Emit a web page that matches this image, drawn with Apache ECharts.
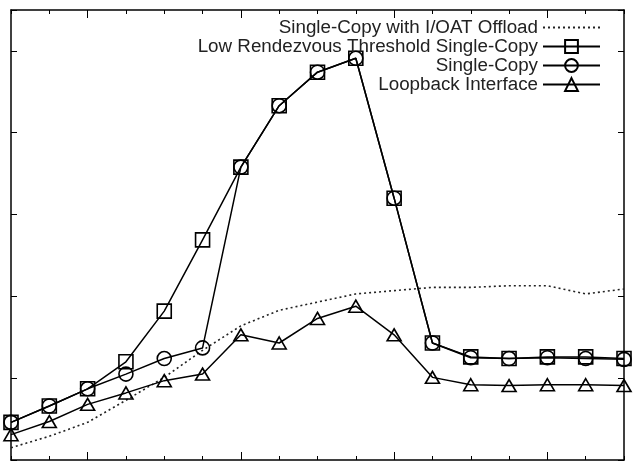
<!DOCTYPE html>
<html>
<head>
<meta charset="utf-8">
<script src="https://cdn.jsdelivr.net/npm/echarts@6/dist/echarts.min.js"></script>
<style>
  html, body { margin: 0; padding: 0; background: #fff; }
  #chart { width: 637px; height: 470px; }
</style>
</head>
<body>
<div id="chart"></div>
<script>
// x positions (message size steps), same for every series
const steps = [0, 1, 2, 3, 4, 5, 6, 7, 8, 9, 10, 11, 12, 13, 14, 15, 16]

const seriesNames = [
  'Single-Copy with I/OAT Offload',
  'Low Rendezvous Threshold Single-Copy',
  'Single-Copy',
  'Loopback Interface'
]

const ioatValues = [0.15, 0.29, 0.46, 0.73, 1.01, 1.34, 1.64, 1.83, 1.93, 2.03, 2.07, 2.11, 2.11, 2.13, 2.13, 2.03, 2.09]
const lowRdvValues = [0.46, 0.66, 0.87, 1.20, 1.82, 2.69, 3.58, 4.33, 4.74, 4.91, 3.20, 1.43, 1.26, 1.24, 1.26, 1.26, 1.24]
const singleCopyValues = [0.46, 0.66, 0.87, 1.05, 1.24, 1.37, 3.58, 4.33, 4.74, 4.91, 3.20, 1.43, 1.25, 1.24, 1.25, 1.24, 1.23]
const loopbackValues = [0.31, 0.47, 0.68, 0.82, 0.97, 1.05, 1.53, 1.43, 1.73, 1.88, 1.53, 1.01, 0.92, 0.91, 0.92, 0.92, 0.91]

// long ticks on the x axis
const majorTicks = [2, 6, 10, 14]

const pairs = vals => steps.map((x, i) => [x, vals[i]])

const chart = echarts.init(document.getElementById('chart'), null, { renderer: 'canvas' })

const frameLine = { show: true, onZero: false, lineStyle: { color: '#000', width: 1.5 } }
const noLine = { show: false, onZero: false }
const tick = len => ({ show: true, inside: true, length: len, lineStyle: { color: '#000', width: 1 } })

const xCommon = {
  type: 'value',
  min: 0,
  max: 16,
  interval: 1,
  axisLabel: { show: false },
  splitLine: { show: false }
}

const yCommon = {
  type: 'value',
  min: 0,
  max: 5.5,
  interval: 1,
  axisLabel: { show: false },
  splitLine: { show: false },
  axisLine: frameLine,
  axisTick: tick(6)
}

const markerStyle = {
  color: 'rgba(0,0,0,0)',
  borderColor: '#000',
  borderWidth: 1.6
}

const option = {
  animation: false,
  backgroundColor: '#fff',
  grid: { left: 11, right: 13, top: 10, bottom: 10 },
  xAxis: [
    Object.assign({}, xCommon, { position: 'bottom', axisLine: frameLine, axisTick: tick(4) }),
    Object.assign({}, xCommon, { position: 'bottom', axisLine: noLine, axisTick: Object.assign(tick(8), { customValues: majorTicks }) }),
    Object.assign({}, xCommon, { position: 'top', axisLine: frameLine, axisTick: tick(4) }),
    Object.assign({}, xCommon, { position: 'top', axisLine: noLine, axisTick: Object.assign(tick(8), { customValues: majorTicks }) })
  ],
  yAxis: [
    Object.assign({}, yCommon, { position: 'left' }),
    Object.assign({}, yCommon, { position: 'right' })
  ],
  legend: {
    orient: 'vertical',
    right: 31,
    top: 13,
    align: 'right',
    itemWidth: 57,
    itemHeight: 16,
    itemGap: 0,
    selectedMode: false,
    textStyle: { fontFamily: 'Liberation Sans', fontSize: 18.8, color: '#222' },
    data: [
      { name: seriesNames[0], itemStyle: { opacity: 0 } },
      seriesNames[1],
      seriesNames[2],
      seriesNames[3]
    ]
  },
  series: [
    {
      name: seriesNames[0],
      type: 'line',
      data: pairs(ioatValues),
      symbol: 'none',
      lineStyle: { color: '#222', width: 1.6, type: [2, 3] },
      itemStyle: { color: '#222' }
    },
    {
      name: seriesNames[1],
      type: 'line',
      data: pairs(lowRdvValues),
      symbol: 'rect',
      symbolSize: 14,
      lineStyle: { color: '#000', width: 1.5 },
      itemStyle: markerStyle
    },
    {
      name: seriesNames[2],
      type: 'line',
      data: pairs(singleCopyValues),
      symbol: 'circle',
      symbolSize: 14,
      lineStyle: { color: '#000', width: 1.5 },
      itemStyle: markerStyle
    },
    {
      name: seriesNames[3],
      type: 'line',
      data: pairs(loopbackValues),
      symbol: 'triangle',
      symbolSize: [14, 12],
      lineStyle: { color: '#000', width: 1.5 },
      itemStyle: markerStyle
    }
  ]
}

chart.setOption(option)
</script>
</body>
</html>
